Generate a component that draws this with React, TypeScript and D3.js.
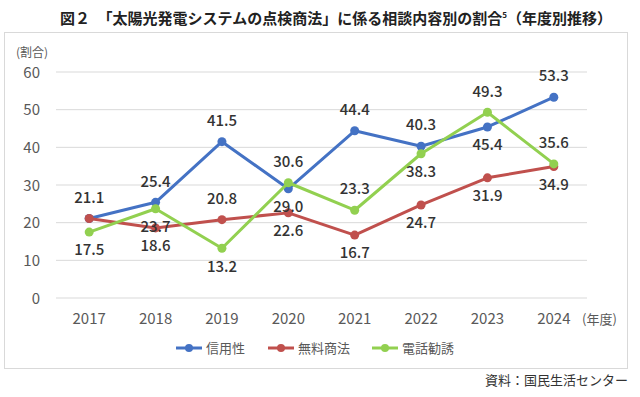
import React from "react";
import * as d3 from "d3";

const years = ["2017", "2018", "2019", "2020", "2021", "2022", "2023", "2024"];
const shinyo = [21.1, 25.4, 41.5, 29.0, 44.4, 40.3, 45.4, 53.3];
const muryo = [21.1, 18.6, 20.8, 22.6, 16.7, 24.7, 31.9, 34.9];
const denwa = [17.5, 23.7, 13.2, 30.6, 23.3, 38.3, 49.3, 35.6];
const yTicks = [0, 10, 20, 30, 40, 50, 60];

// label placement per point: 1 = above, -1 = below, 0 = hidden
const shinyoPos = [1, 1, 1, -1, 1, 1, -1, 1];
const muryoPos = [0, -1, 1, -1, -1, -1, -1, -1];
const denwaPos = [-1, -1, -1, 1, 1, -1, 1, 1];

const series = [
  { name: "信用性", values: shinyo, pos: shinyoPos, color: "#4472C4" },
  { name: "無料商法", values: muryo, pos: muryoPos, color: "#C0504D" },
  { name: "電話勧誘", values: denwa, pos: denwaPos, color: "#92D050" },
];

const W = 640;
const H = 397;
const font = "'Noto Sans CJK JP', 'Noto Sans', sans-serif";

export default function App() {
  const x = d3.scaleBand().domain(years).range([56, 587]).padding(0);
  const y = d3.scaleLinear().domain([0, 60]).range([298, 72]);
  const cx = (yr: string) => (x(yr) as number) + x.bandwidth() / 2;
  const line = d3
    .line<number>()
    .x((_, i) => cx(years[i]))
    .y((d) => y(d));

  const legendX = [176, 268, 372];

  return (
    <svg
      width={W}
      height={H}
      style={{ position: "absolute", left: 0, top: 0, background: "#fff" }}
      fontFamily={font}
    >
      <text x={336} y={24} textAnchor="middle" fontSize={15} fontWeight="bold" fill="#222">
        図２　「太陽光発電システムの点検商法」に係る相談内容別の割合
        <tspan fontSize={8} dy={-6}>5</tspan>
        <tspan dy={6}>（年度別推移）</tspan>
      </text>
      <rect x={4.5} y={32.5} width={623} height={336} fill="#fff" stroke="#d9d9d9" />

      <text x={16} y={57} fontSize={12} fill="#595959">(割合)</text>

      {yTicks.map((t) => (
        <g key={t}>
          <line x1={56} x2={587} y1={y(t)} y2={y(t)} stroke="#d9d9d9" strokeWidth={1} />
          <text x={40} y={y(t)} dy="0.38em" textAnchor="end" fontSize={15} fill="#595959">
            {t}
          </text>
        </g>
      ))}

      {years.map((yr) => (
        <text key={yr} x={cx(yr)} y={319} dy="0.35em" textAnchor="middle" fontSize={15} fill="#595959">
          {yr}
        </text>
      ))}
      <text x={582} y={319} dy="0.35em" fontSize={13} fill="#595959">(年度)</text>

      {series.map((s) => (
        <g key={s.name}>
          <path d={line(s.values) || ""} fill="none" stroke={s.color} strokeWidth={3} strokeLinejoin="round" />
          {s.values.map((v, i) => (
            <circle key={i} cx={cx(years[i])} cy={y(v)} r={4.5} fill={s.color} />
          ))}
        </g>
      ))}

      {series.map((s) =>
        s.values.map((v, i) =>
          s.pos[i] === 0 ? null : (
            <text
              key={s.name + i}
              x={cx(years[i])}
              y={y(v) + (s.pos[i] > 0 ? -21 : 18)}
              dy="0.35em"
              textAnchor="middle"
              fontSize={15}
              fontWeight={500}
              fill="#333"
            >
              {v.toFixed(1)}
            </text>
          )
        )
      )}

      {series.map((s, i) => (
        <g key={s.name} transform={`translate(${legendX[i]},348)`}>
          <line x1={0} x2={26} y1={0} y2={0} stroke={s.color} strokeWidth={3} />
          <circle cx={13} cy={0} r={4} fill={s.color} />
          <text x={30} y={0} dy="0.35em" fontSize={13} fill="#595959">{s.name}</text>
        </g>
      ))}

      <text x={628} y={385} textAnchor="end" fontSize={13} fill="#333">
        資料：国民生活センター
      </text>
    </svg>
  );
}
